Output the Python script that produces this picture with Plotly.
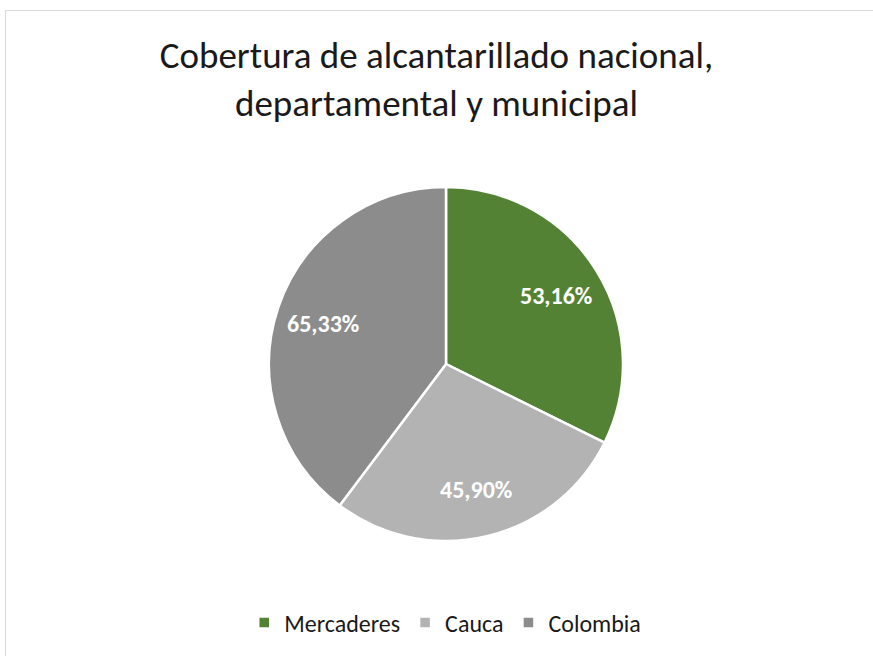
import math
import plotly.graph_objects as go

categories = ["Mercaderes", "Cauca", "Colombia"]
values = [53.16, 45.90, 65.33]
labels_text = ["53,16%", "45,90%", "65,33%"]
colors = ["#548235", "#B3B3B3", "#8C8C8C"]

W, H = 873, 656
cx, cy, r = 446, 364, 177
FONT = "Calibri, Carlito, Lato, sans-serif"

fig = go.Figure(go.Pie(
    labels=categories,
    values=values,
    textinfo="none",
    marker=dict(colors=colors, line=dict(color="white", width=2.5)),
    sort=False,
    direction="clockwise",
    rotation=0,
    hoverinfo="label+value",
    domain=dict(x=[(cx - r) / W, (cx + r) / W], y=[1 - (cy + r) / H, 1 - (cy - r) / H]),
))

# data labels placed at each slice's mid-angle, derived from the values
total = sum(values)
annotations = []
cum = 0.0
label_frac = 0.73
for v, t in zip(values, labels_text):
    mid = (cum + v / 2) / total * 2 * math.pi
    cum += v
    px = cx + label_frac * r * math.sin(mid)
    py = cy - label_frac * r * math.cos(mid)
    annotations.append(dict(
        x=px / W, y=1 - py / H, xref="paper", yref="paper",
        text=t, showarrow=False, xanchor="center", yanchor="middle",
        font=dict(family=FONT, size=24, color="white", weight="bold"),
    ))

fig.update_layout(
    width=W, height=H,
    margin=dict(l=0, r=0, t=0, b=0),
    paper_bgcolor="white",
    title=dict(
        text="Cobertura de alcantarillado nacional,<br>departamental y municipal",
        x=0.5, xanchor="center", y=1 - 68 / H, yanchor="top",
        font=dict(family=FONT, size=37, color="#1a1a1a"),
    ),
    showlegend=True,
    legend=dict(
        orientation="h", x=0.51, xanchor="center", y=1 - 623 / H, yanchor="middle",
        font=dict(family=FONT, size=24, color="#1a1a1a"),
        itemwidth=30, traceorder="normal",
    ),
    annotations=annotations,
    shapes=[dict(type="rect", xref="paper", yref="paper",
                 x0=5.5 / W, y0=-0.05, x1=1.05, y1=1 - 10.5 / H,
                 line=dict(color="#D9D9D9", width=1), fillcolor="rgba(0,0,0,0)", layer="below")],
)

fig.write_html("out.html", config={"displayModeBar": False},
               post_script="document.body.style.margin='0';")
